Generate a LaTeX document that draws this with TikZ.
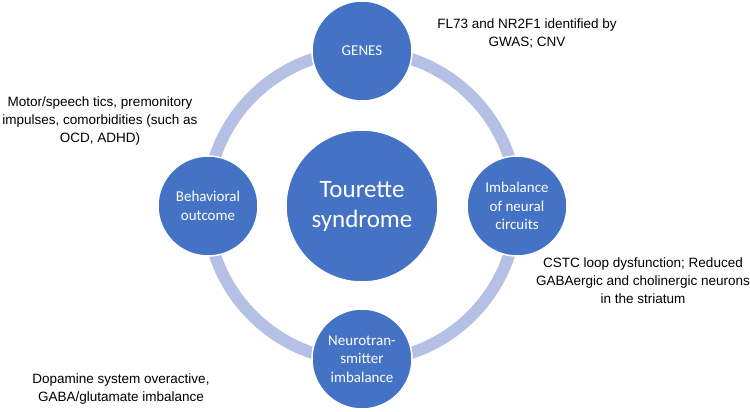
\documentclass[tikz,border=0pt]{standalone}
\usepackage{fontspec}
\setmainfont{Liberation Sans}
\newfontfamily\calibrifont{Carlito}
\usetikzlibrary{positioning}
\definecolor{hubblue}{HTML}{4472C4}
\definecolor{ringblue}{HTML}{B4C1E4}

\begin{document}
\begin{tikzpicture}[x=1pt, y=-1pt,
  hub/.style={circle, fill=hubblue, draw=white, line width=1.5pt, text=white,
    align=center, inner sep=0pt, minimum size=100pt,
    font=\calibrifont\fontsize{15}{18.5}\selectfont},
  note/.style={align=center, text=black, inner sep=0pt,
    font=\fontsize{13.5}{18}\selectfont}]
  \useasboundingbox (0,0) rectangle (750,412);

  % Light ring through the four outer circles
  \draw[ringblue, line width=12pt] (362,206) circle (155pt);

  % Central circle
  \node[hub, minimum size=152pt, font=\calibrifont\fontsize{25}{30}\selectfont]
    (tourette) at (362,206) {Tourette\\syndrome};

  % Outer circles on the ring
  \node[hub] (genes) at (362,51) {GENES};
  \node[hub] (circuits) at (517,206) {Imbalance\\of neural\\circuits};
  \node[hub] (neuro) at (362,359) {Neurotran-\\smitter\\imbalance};
  \node[hub] (behav) at (208,206) {Behavioral\\outcome};

  % Annotations
  \node[note] (genesnote) at (527,33)
    {FL73 and NR2F1 identified by\\GWAS; CNV};
  \node[note] (circuitsnote) at (643,281)
    {CSTC loop dysfunction; Reduced\\GABAergic and cholinergic neurons\\in the striatum};
  \node[note] (neuronote) at (121,389)
    {Dopamine system overactive,\\GABA/glutamate imbalance};
  \node[note] (behavnote) at (100,121)
    {Motor/speech tics, premonitory\\impulses, comorbidities (such as\\OCD, ADHD)};
\end{tikzpicture}
\end{document}
